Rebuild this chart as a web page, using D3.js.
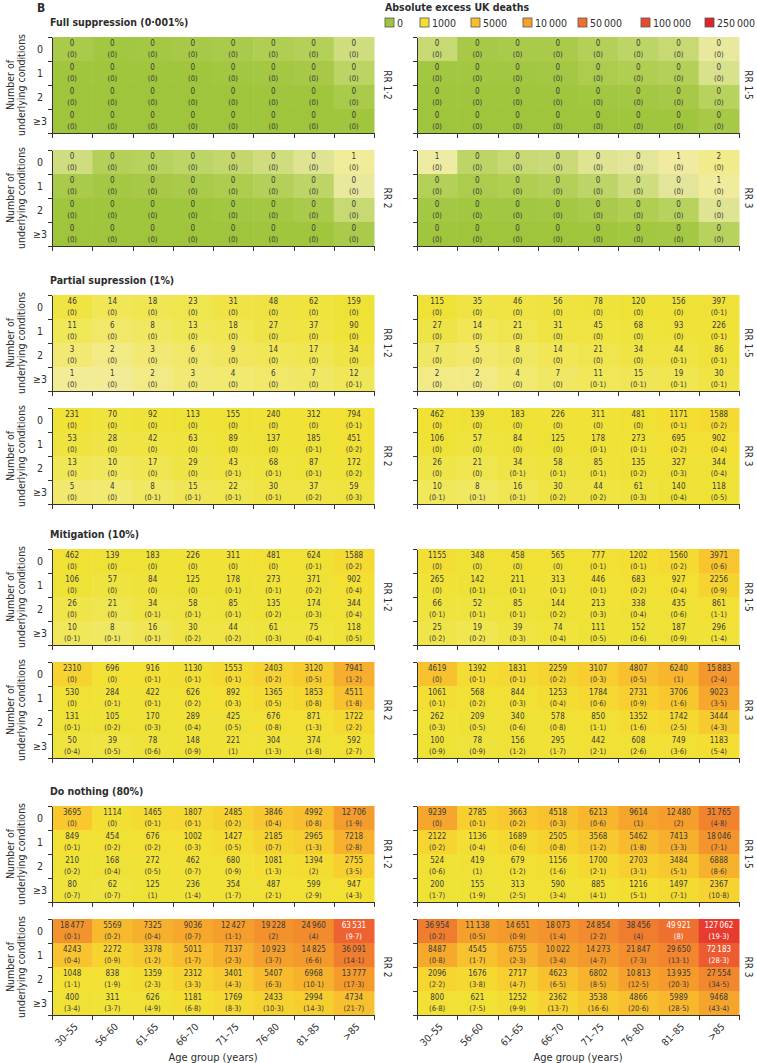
<!DOCTYPE html>
<html>
<head>
<meta charset="utf-8">
<script src="https://cdn.jsdelivr.net/npm/d3@7"></script>
<style>
  body { margin: 0; background: #fff; }
  svg text { font-family: "Liberation Sans Narrow", "DejaVu Sans Condensed", "Open Sans", sans-serif; fill: #2d2d2d; }
  .axis path, .axis line { stroke: #333; stroke-width: 1; shape-rendering: crispEdges; }
</style>
</head>
<body>
<div id="chart"></div>
<script>
// ---- categories -------------------------------------------------------
var ageGroups = ["30–55", "56–60", "61–65", "66–70", "71–75", "76–80", "81–85", ">85"];
var conditions = ["0", "1", "2", "≥3"];
var legendValues = [0, 1000, 5000, 10000, 50000, 100000, 250000];
var sectionTitles = ["Full suppression (0·001%)", "Partial supression (1%)", "Mitigation (10%)", "Do nothing (80%)"];
var rrLabels = ["RR 1·2", "RR 1·5", "RR 2", "RR 3"];

// ---- full suppression (unrounded estimates, shown rounded) ----------
var fullRR12 = [
  [0.05, 0.02, 0.03, 0.04, 0.05, 0.08, 0.10, 0.25],
  [0.01, 0.01, 0.01, 0.01, 0.02, 0.03, 0.04, 0.14],
  [0, 0, 0, 0, 0, 0.01, 0.01, 0.05],
  [0, 0, 0, 0, 0, 0, 0, 0.01]
];
var fullRR15 = [
  [0.20, 0.04, 0.05, 0.05, 0.10, 0.15, 0.20, 0.45],
  [0.02, 0.02, 0.02, 0.03, 0.06, 0.08, 0.10, 0.30],
  [0.01, 0.01, 0.01, 0.01, 0.02, 0.03, 0.04, 0.12],
  [0, 0, 0, 0, 0, 0.01, 0.01, 0.04]
];
var fullRR2 = [
  [0.25, 0.10, 0.12, 0.15, 0.18, 0.25, 0.35, 0.90],
  [0.05, 0.03, 0.04, 0.05, 0.07, 0.10, 0.15, 0.45],
  [0.01, 0.01, 0.01, 0.01, 0.02, 0.03, 0.05, 0.20],
  [0, 0, 0, 0, 0, 0.01, 0.01, 0.05]
];
var fullRR3 = [
  [0.55, 0.15, 0.20, 0.22, 0.35, 0.40, 0.70, 1.60],
  [0.10, 0.06, 0.08, 0.10, 0.15, 0.25, 0.40, 0.80],
  [0.03, 0.02, 0.02, 0.03, 0.05, 0.08, 0.12, 0.35],
  [0.01, 0, 0, 0, 0.01, 0.02, 0.03, 0.12]
];
var fullPct = [
  [0, 0, 0, 0, 0, 0, 0, 0],
  [0, 0, 0, 0, 0, 0, 0, 0],
  [0, 0, 0, 0, 0, 0, 0, 0],
  [0, 0, 0, 0, 0, 0, 0, 0]
];

// ---- partial suppression (1%) -----------------------------------------
var partialRR12 = [
  [46, 14, 18, 23, 31, 48, 62, 159],
  [11, 6, 8, 13, 18, 27, 37, 90],
  [3, 2, 3, 6, 9, 14, 17, 34],
  [1, 1, 2, 3, 4, 6, 7, 12]
];
var partialRR12Pct = [
  [0, 0, 0, 0, 0, 0, 0, 0],
  [0, 0, 0, 0, 0, 0, 0, 0],
  [0, 0, 0, 0, 0, 0, 0, 0],
  [0, 0, 0, 0, 0, 0, 0, 0.1]
];
var partialRR15 = [
  [115, 35, 46, 56, 78, 120, 156, 397],
  [27, 14, 21, 31, 45, 68, 93, 226],
  [7, 5, 8, 14, 21, 34, 44, 86],
  [2, 2, 4, 7, 11, 15, 19, 30]
];
var partialRR15Pct = [
  [0, 0, 0, 0, 0, 0, 0, 0.1],
  [0, 0, 0, 0, 0, 0, 0, 0.1],
  [0, 0, 0, 0, 0, 0, 0.1, 0.1],
  [0, 0, 0, 0, 0.1, 0.1, 0.1, 0.1]
];
var partialRR2 = [
  [231, 70, 92, 113, 155, 240, 312, 794],
  [53, 28, 42, 63, 89, 137, 185, 451],
  [13, 10, 17, 29, 43, 68, 87, 172],
  [5, 4, 8, 15, 22, 30, 37, 59]
];
var partialRR2Pct = [
  [0, 0, 0, 0, 0, 0, 0, 0.1],
  [0, 0, 0, 0, 0, 0, 0.1, 0.2],
  [0, 0, 0, 0, 0.1, 0.1, 0.1, 0.2],
  [0, 0, 0.1, 0.1, 0.1, 0.1, 0.2, 0.3]
];
var partialRR3 = [
  [462, 139, 183, 226, 311, 481, 1171, 1588],
  [106, 57, 84, 125, 178, 273, 695, 902],
  [26, 21, 34, 58, 85, 135, 327, 344],
  [10, 8, 16, 30, 44, 61, 140, 118]
];
var partialRR3Pct = [
  [0, 0, 0, 0, 0, 0, 0.1, 0.2],
  [0, 0, 0, 0, 0.1, 0.1, 0.2, 0.4],
  [0, 0, 0.1, 0.1, 0.1, 0.2, 0.3, 0.4],
  [0.1, 0.1, 0.1, 0.2, 0.2, 0.3, 0.4, 0.5]
];

// ---- mitigation (10%) -------------------------------------------------
var mitigationRR12 = [
  [462, 139, 183, 226, 311, 481, 624, 1588],
  [106, 57, 84, 125, 178, 273, 371, 902],
  [26, 21, 34, 58, 85, 135, 174, 344],
  [10, 8, 16, 30, 44, 61, 75, 118]
];
var mitigationRR12Pct = [
  [0, 0, 0, 0, 0, 0, 0.1, 0.2],
  [0, 0, 0, 0, 0.1, 0.1, 0.2, 0.4],
  [0, 0, 0.1, 0.1, 0.1, 0.2, 0.3, 0.4],
  [0.1, 0.1, 0.1, 0.2, 0.2, 0.3, 0.4, 0.5]
];
var mitigationRR15 = [
  [1155, 348, 458, 565, 777, 1202, 1560, 3971],
  [265, 142, 211, 313, 446, 683, 927, 2256],
  [66, 52, 85, 144, 213, 338, 435, 861],
  [25, 19, 39, 74, 111, 152, 187, 296]
];
var mitigationRR15Pct = [
  [0, 0, 0, 0, 0.1, 0.1, 0.2, 0.6],
  [0, 0.1, 0.1, 0.1, 0.1, 0.2, 0.4, 0.9],
  [0.1, 0.1, 0.1, 0.2, 0.3, 0.4, 0.6, 1.1],
  [0.2, 0.2, 0.3, 0.4, 0.5, 0.6, 0.9, 1.4]
];
var mitigationRR2 = [
  [2310, 696, 916, 1130, 1553, 2403, 3120, 7941],
  [530, 284, 422, 626, 892, 1365, 1853, 4511],
  [131, 105, 170, 289, 425, 676, 871, 1722],
  [50, 39, 78, 148, 221, 304, 374, 592]
];
var mitigationRR2Pct = [
  [0, 0, 0.1, 0.1, 0.1, 0.2, 0.5, 1.2],
  [0, 0.1, 0.1, 0.2, 0.3, 0.5, 0.8, 1.8],
  [0.1, 0.2, 0.3, 0.4, 0.5, 0.8, 1.3, 2.2],
  [0.4, 0.5, 0.6, 0.9, 1, 1.3, 1.8, 2.7]
];
var mitigationRR3 = [
  [4619, 1392, 1831, 2259, 3107, 4807, 6240, 15883],
  [1061, 568, 844, 1253, 1784, 2731, 3706, 9023],
  [262, 209, 340, 578, 850, 1352, 1742, 3444],
  [100, 78, 156, 295, 442, 608, 749, 1183]
];
var mitigationRR3Pct = [
  [0, 0.1, 0.1, 0.2, 0.3, 0.5, 1, 2.4],
  [0.1, 0.2, 0.3, 0.4, 0.6, 0.9, 1.6, 3.5],
  [0.3, 0.5, 0.6, 0.8, 1.1, 1.6, 2.5, 4.3],
  [0.9, 0.9, 1.2, 1.7, 2.1, 2.6, 3.6, 5.4]
];

// ---- do nothing (80%) -------------------------------------------------
var nothingRR12 = [
  [3695, 1114, 1465, 1807, 2485, 3846, 4992, 12706],
  [849, 454, 676, 1002, 1427, 2185, 2965, 7218],
  [210, 168, 272, 462, 680, 1081, 1394, 2755],
  [80, 62, 125, 236, 354, 487, 599, 947]
];
var nothingRR12Pct = [
  [0, 0, 0.1, 0.1, 0.2, 0.4, 0.8, 1.9],
  [0.1, 0.2, 0.2, 0.3, 0.5, 0.7, 1.3, 2.8],
  [0.2, 0.4, 0.5, 0.7, 0.9, 1.3, 2, 3.5],
  [0.7, 0.7, 1, 1.4, 1.7, 2.1, 2.9, 4.3]
];
var nothingRR15 = [
  [9239, 2785, 3663, 4518, 6213, 9614, 12480, 31765],
  [2122, 1136, 1689, 2505, 3568, 5462, 7413, 18046],
  [524, 419, 679, 1156, 1700, 2703, 3484, 6888],
  [200, 155, 313, 590, 885, 1216, 1497, 2367]
];
var nothingRR15Pct = [
  [0, 0.1, 0.2, 0.3, 0.6, 1, 2, 4.8],
  [0.2, 0.4, 0.6, 0.8, 1.2, 1.8, 3.3, 7.1],
  [0.6, 1, 1.2, 1.6, 2.1, 3.1, 5.1, 8.6],
  [1.7, 1.9, 2.5, 3.4, 4.1, 5.1, 7.1, 10.8]
];
var nothingRR2 = [
  [18477, 5569, 7325, 9036, 12427, 19228, 24960, 63531],
  [4243, 2272, 3378, 5011, 7137, 10923, 14825, 36091],
  [1048, 838, 1359, 2312, 3401, 5407, 6968, 13777],
  [400, 311, 626, 1181, 1769, 2433, 2994, 4734]
];
var nothingRR2Pct = [
  [0.1, 0.2, 0.4, 0.7, 1.1, 2, 4, 9.7],
  [0.4, 0.9, 1.2, 1.7, 2.3, 3.7, 6.6, 14.1],
  [1.1, 1.9, 2.3, 3.3, 4.3, 6.3, 10.1, 17.3],
  [3.4, 3.7, 4.9, 6.8, 8.3, 10.3, 14.3, 21.7]
];
var nothingRR3 = [
  [36954, 11138, 14651, 18073, 24854, 38456, 49921, 127062],
  [8487, 4545, 6755, 10022, 14273, 21847, 29650, 72183],
  [2096, 1676, 2717, 4623, 6802, 10813, 13935, 27554],
  [800, 621, 1252, 2362, 3538, 4866, 5989, 9468]
];
var nothingRR3Pct = [
  [0.2, 0.5, 0.9, 1.4, 2.2, 4, 8, 19.3],
  [0.8, 1.7, 2.3, 3.4, 4.7, 7.3, 13.1, 28.3],
  [2.2, 3.8, 4.7, 6.5, 8.5, 12.5, 20.3, 34.5],
  [6.8, 7.5, 9.9, 13.7, 16.6, 20.6, 28.5, 43.4]
];

var sections = [
  [[fullRR12, fullPct], [fullRR15, fullPct], [fullRR2, fullPct], [fullRR3, fullPct]],
  [[partialRR12, partialRR12Pct], [partialRR15, partialRR15Pct], [partialRR2, partialRR2Pct], [partialRR3, partialRR3Pct]],
  [[mitigationRR12, mitigationRR12Pct], [mitigationRR15, mitigationRR15Pct], [mitigationRR2, mitigationRR2Pct], [mitigationRR3, mitigationRR3Pct]],
  [[nothingRR12, nothingRR12Pct], [nothingRR15, nothingRR15Pct], [nothingRR2, nothingRR2Pct], [nothingRR3, nothingRR3Pct]]
];

// ---- layout -----------------------------------------------------------
var W = 757, H = 1063;
var pw = 322, ph = 96;
var panelX = [52, 417];
var rrOffset = [13, 9];
var sectionTop = [37, 295, 549, 806];
var rowGap = 113;

var color = d3.scaleLinear()
  .domain([0, 0.12, 0.3, 0.5, 1, 3, 10, 30, 100, 1000, 2000, 4000, 6000, 10000, 20000, 40000, 65000, 130000, 250000])
  .range(["#9ec53b", "#b8d25e", "#d8e18c", "#eeeba4", "#f2ec96", "#f1e974", "#f0e75a", "#efe444", "#efe237",
          "#f3e033", "#f6d630", "#f8c52e", "#f8b72d", "#f5a22c", "#f3902d", "#f07a2f", "#ee5f30", "#e6392d", "#e0222d"])
  .clamp(true);

function fmtCount(v) {
  var s = String(Math.round(v));
  return s.length > 4 ? s.slice(0, -3) + "\u2009" + s.slice(-3) : s;
}
function fmtPct(p) {
  return "(" + String(p).replace(".", "·") + ")";
}

var svg = d3.select("#chart").append("svg")
  .attr("width", W)
  .attr("height", H);

// panel letter and legend
svg.append("text").attr("x", 37).attr("y", 12)
  .style("font-size", "12px").style("font-weight", "bold").text("B");

var legend = svg.append("g").attr("transform", "translate(385,0)");
legend.append("text").attr("x", 0).attr("y", 11)
  .style("font-size", "10.5px").style("font-weight", "bold").text("Absolute excess UK deaths");
var legendOffsets = [0, 35, 86, 138, 193, 256, 320];
var keys = legend.selectAll(".key")
  .data(legendValues)
  .enter().append("g")
  .attr("class", "key")
  .attr("transform", function(d, i) { return "translate(" + legendOffsets[i] + ",18)"; });
keys.append("rect")
  .attr("width", 9).attr("height", 9)
  .attr("fill", function(d) { return color(d); })
  .attr("stroke", "#555").attr("stroke-width", 0.8);
keys.append("text")
  .attr("x", 12).attr("y", 8.5)
  .style("font-size", "10.5px")
  .text(function(d) { return d >= 10000 ? fmtCount(d) : String(d); });

// heatmaps
sections.forEach(function(sec, si) {
  var top = sectionTop[si];
  svg.append("text")
    .attr("x", 50).attr("y", top - 11)
    .style("font-size", "10.5px").style("font-weight", "bold")
    .text(sectionTitles[si]);

  sec.forEach(function(panel, pi) {
    var col = pi % 2, row = Math.floor(pi / 2);
    var g = svg.append("g")
      .attr("transform", "translate(" + panelX[col] + "," + (top + row * rowGap) + ")");
    drawPanel(g, panel[0], panel[1], rrLabels[pi], col, si === 3 && row === 1);
  });
});

function drawPanel(g, deaths, pct, rr, col, showX) {
  var x = d3.scaleBand().domain(ageGroups).range([0, pw]);
  var y = d3.scaleBand().domain(conditions).range([0, ph]);

  var cells = [];
  conditions.forEach(function(c, i) {
    ageGroups.forEach(function(a, j) {
      cells.push({c: c, a: a, v: deaths[i][j], p: pct[i][j]});
    });
  });

  g.selectAll(".cell")
    .data(cells)
    .enter().append("rect")
    .attr("class", "cell")
    .attr("x", function(d) { return x(d.a); })
    .attr("y", function(d) { return y(d.c); })
    .attr("width", x.bandwidth() + 0.5)
    .attr("height", y.bandwidth() + 0.5)
    .attr("fill", function(d) { return color(d.v); });

  var labels = g.selectAll(".lab")
    .data(cells)
    .enter().append("g")
    .attr("class", "lab")
    .attr("transform", function(d) { return "translate(" + (x(d.a) + x.bandwidth() / 2) + "," + y(d.c) + ")"; });
  labels.append("text")
    .attr("y", 8.8)
    .attr("text-anchor", "middle")
    .style("font-size", "8px")
    .style("fill", function(d) { return d.v > 45000 ? "#fff" : "#3a3a3a"; })
    .text(function(d) { return fmtCount(d.v); });
  labels.append("text")
    .attr("y", 19.8)
    .attr("text-anchor", "middle")
    .style("font-size", "7.6px")
    .style("fill", function(d) { return d.v > 45000 ? "#fff" : "#3a3a3a"; })
    .text(function(d) { return fmtPct(d.p); });

  // axes at cell boundaries
  var xEdge = d3.scaleLinear().domain([0, ageGroups.length]).range([0, pw]);
  var yEdge = d3.scaleLinear().domain([0, conditions.length]).range([0, ph]);
  g.append("g").attr("class", "axis")
    .attr("transform", "translate(0," + ph + ")")
    .call(d3.axisBottom(xEdge).tickValues(d3.range(ageGroups.length + 1)).tickSize(5).tickSizeOuter(0).tickFormat(""));
  g.append("g").attr("class", "axis")
    .call(d3.axisLeft(yEdge).tickValues(d3.range(conditions.length + 1)).tickSize(4).tickSizeOuter(0).tickFormat(""));

  // RR label on the right
  g.append("text")
    .attr("transform", "translate(" + (pw + rrOffset[col]) + "," + (ph / 2) + ") rotate(90)")
    .attr("text-anchor", "middle")
    .attr("dy", "0.35em")
    .style("font-size", "10px")
    .text(rr);

  if (col === 0) {
    g.selectAll(".ylab")
      .data(conditions)
      .enter().append("text")
      .attr("class", "ylab")
      .attr("x", -12)
      .attr("y", function(d) { return y(d) + y.bandwidth() / 2; })
      .attr("dy", "0.35em")
      .attr("text-anchor", "middle")
      .style("font-size", "10.5px")
      .text(function(d) { return d; });
    var t = g.append("text")
      .attr("transform", "translate(-42," + (ph / 2) + ") rotate(-90)")
      .attr("text-anchor", "middle")
      .style("font-size", "10.5px");
    t.append("tspan").attr("x", 0).attr("dy", "0.35em").text("Number of");
    t.append("tspan").attr("x", 0).attr("dy", "11").text("underlying conditions");
  }

  if (showX) {
    g.selectAll(".xlab")
      .data(ageGroups)
      .enter().append("text")
      .attr("class", "xlab")
      .attr("transform", function(d) { return "translate(" + (x(d) + x.bandwidth() / 2 + 4) + "," + (ph + 10) + ") rotate(-45)"; })
      .attr("text-anchor", "end")
      .attr("dy", "0.35em")
      .style("font-size", "10px")
      .text(function(d) { return d; });
    g.append("text")
      .attr("x", pw / 2)
      .attr("y", ph + 46)
      .attr("text-anchor", "middle")
      .style("font-size", "11px")
      .text("Age group (years)");
  }
}
</script>
</body>
</html>
